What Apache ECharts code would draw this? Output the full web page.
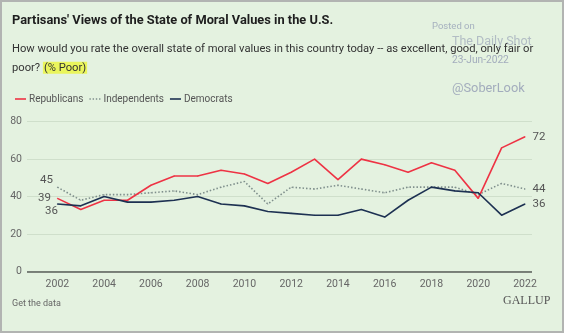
<!DOCTYPE html>
<html>
<head>
<meta charset="utf-8">
<script src="https://cdn.jsdelivr.net/npm/echarts@6/dist/echarts.min.js"></script>
<style>
  html, body { margin: 0; padding: 0; background: #e4f2e0; }
  #chart { width: 564px; height: 333px; }
</style>
</head>
<body>
<div id="chart"></div>
<script>
// Survey years and % rating moral values "poor", by party
const years = [2002, 2003, 2004, 2005, 2006, 2007, 2008, 2009, 2010, 2011, 2012,
               2013, 2014, 2015, 2016, 2017, 2018, 2019, 2020, 2021, 2022];
const republicans  = [39, 33, 38, 38, 46, 51, 51, 54, 52, 47, 53, 60, 49, 60, 57, 53, 58, 54, 39, 66, 72];
const independents = [45, 38, 41, 41, 42, 43, 41, 45, 48, 36, 45, 44, 46, 44, 42, 45, 45, 45, 41, 47, 44];
const democrats    = [36, 35, 40, 37, 37, 38, 40, 36, 35, 32, 31, 30, 30, 33, 29, 38, 45, 43, 42, 30, 36];
const yearTicks = [2002, 2004, 2006, 2008, 2010, 2012, 2014, 2016, 2018, 2020, 2022];

const FONT = 'Roboto, "Noto Sans", sans-serif';

const RED = '#ee3344';
const GREY = '#7f8f8c';
const NAVY = '#1d3152';

// Pair years with values; label only the first and last points
function buildData(values) {
  return values.map((v, i) => {
    const item = { value: [years[i], v] };
    if (i === 0) {
      item.label = { show: true, position: 'left', distance: 4 };
    } else if (i === values.length - 1) {
      item.label = { show: true, position: 'right', distance: 7 };
    }
    return item;
  });
}

const endLabel = { show: false, color: '#555', fontSize: 11.5, fontFamily: FONT };

// firstShift nudges the 2002 label so the three start labels don't collide
function lineSeries(name, values, color, lineType, firstShift, z) {
  return {
    name, type: 'line', z,
    symbol: 'circle', symbolSize: 1, showAllSymbol: true,
    itemStyle: { color },
    color,
    lineStyle: { color, width: 1.6, type: lineType },
    label: endLabel,
    labelLayout: params => params.dataIndex === 0
      ? { dx: firstShift[0], dy: firstShift[1], hideOverlap: false }
      : { hideOverlap: false },
    emphasis: { disabled: true },
    data: buildData(values)
  };
}

const solidIcon = 'path://M0,0 L11,0 L11,1.6 L0,1.6 Z';
const dotIcon = 'path://M0,0 L1.4,0 L1.4,1.6 L0,1.6 Z M3.2,0 L4.6,0 L4.6,1.6 L3.2,1.6 Z M6.4,0 L7.8,0 L7.8,1.6 L6.4,1.6 Z M9.6,0 L11,0 L11,1.6 L9.6,1.6 Z';

const chart = echarts.init(document.getElementById('chart'), null, { renderer: 'canvas' });
chart.setOption({
  backgroundColor: '#e4f2e0',
  animation: false,
  grid: { left: 27, right: 32, top: 121.7, bottom: 61.7, containLabel: false },
  legend: {
    left: 10, top: 89,
    itemWidth: 11, itemHeight: 1.6, itemGap: 6,
    textStyle: { color: '#555', fontSize: 10, fontFamily: FONT, padding: [0, 0, 0, -2] },
    data: [
      { name: 'Republicans', icon: solidIcon, itemStyle: { color: RED } },
      { name: 'Independents', icon: dotIcon, itemStyle: { color: GREY } },
      { name: 'Democrats', icon: solidIcon, itemStyle: { color: NAVY } }
    ]
  },
  xAxis: {
    type: 'value',
    min: 2000.7, max: 2022.3,
    axisLine: { show: false },
    axisTick: { show: false },
    splitLine: { show: false },
    axisLabel: {
      customValues: yearTicks,
      color: '#666', fontSize: 10.5, fontFamily: FONT, margin: 8,
      formatter: v => String(v)
    }
  },
  yAxis: {
    type: 'value',
    min: 0, max: 80, interval: 20,
    axisLine: { show: false },
    axisTick: { show: false },
    axisLabel: { color: '#666', fontSize: 10.5, fontFamily: FONT, margin: 5 },
    splitLine: { lineStyle: { color: '#cfdfcb', width: 1 } }
  },
  series: [
    lineSeries('Republicans', republicans, RED, 'solid', [-2, 0], 4),
    lineSeries('Independents', independents, GREY, [1.5, 2], [0, -7], 3),
    Object.assign(lineSeries('Democrats', democrats, NAVY, 'solid', [5, 7], 5), {
      markLine: {
        silent: true, symbol: 'none', label: { show: false },
        lineStyle: { color: '#5a5e5a', width: 1.5, type: 'solid' },
        data: [{ yAxis: 0 }]
      }
    })
  ],
  graphic: [
    {
      type: 'rect', shape: { x: 1, y: 1, width: 562, height: 331 },
      style: { fill: 'none', stroke: '#b2b4b2', lineWidth: 2 }, silent: true
    },
    {
      type: 'text', x: 12, y: 14, scaleX: 0.95,
      style: { text: "Partisans' Views of the State of Moral Values in the U.S.",
               fill: '#1e1e1e', fontSize: 13.5, fontWeight: 'bold', fontFamily: FONT }
    },
    {
      type: 'text', left: 12, top: 40,
      style: {
        text: 'How would you rate the overall state of moral values in this country today -- as excellent, good, only fair or\npoor? {hl|(% Poor)}',
        fill: '#333', fontSize: 11.2, fontFamily: FONT, lineHeight: 18.5,
        rich: { hl: { backgroundColor: '#eaf55c', fill: '#333', fontSize: 11.2, fontFamily: FONT, lineHeight: 18.5, padding: [1, 1, 0, 1] } }
      }
    },
    // Repost watermark
    {
      type: 'text', left: 432, top: 22,
      style: { text: 'Posted on', fill: 'rgba(150,160,182,0.8)', fontSize: 9.5, fontFamily: FONT }
    },
    {
      type: 'text', left: 452, top: 35,
      style: { text: 'The Daily Shot', fill: 'rgba(150,160,182,0.65)', fontSize: 12.5, fontFamily: FONT }
    },
    {
      type: 'text', left: 452, top: 55,
      style: { text: '23-Jun-2022', fill: 'rgba(150,160,182,0.85)', fontSize: 10.2, fontFamily: FONT }
    },
    {
      type: 'text', left: 452, top: 82,
      style: { text: '@SoberLook', fill: 'rgba(150,160,182,0.85)', fontSize: 12.8, fontFamily: FONT }
    },
    {
      type: 'text', left: 12, top: 299,
      style: { text: 'Get the data', fill: '#666', fontSize: 9, fontFamily: FONT }
    },
    {
      type: 'text', left: 503, top: 295,
      style: { text: 'GALLUP', fill: '#555', fontSize: 12, fontFamily: '"Liberation Serif", "DejaVu Serif", serif' }
    }
  ]
});
</script>
</body>
</html>
